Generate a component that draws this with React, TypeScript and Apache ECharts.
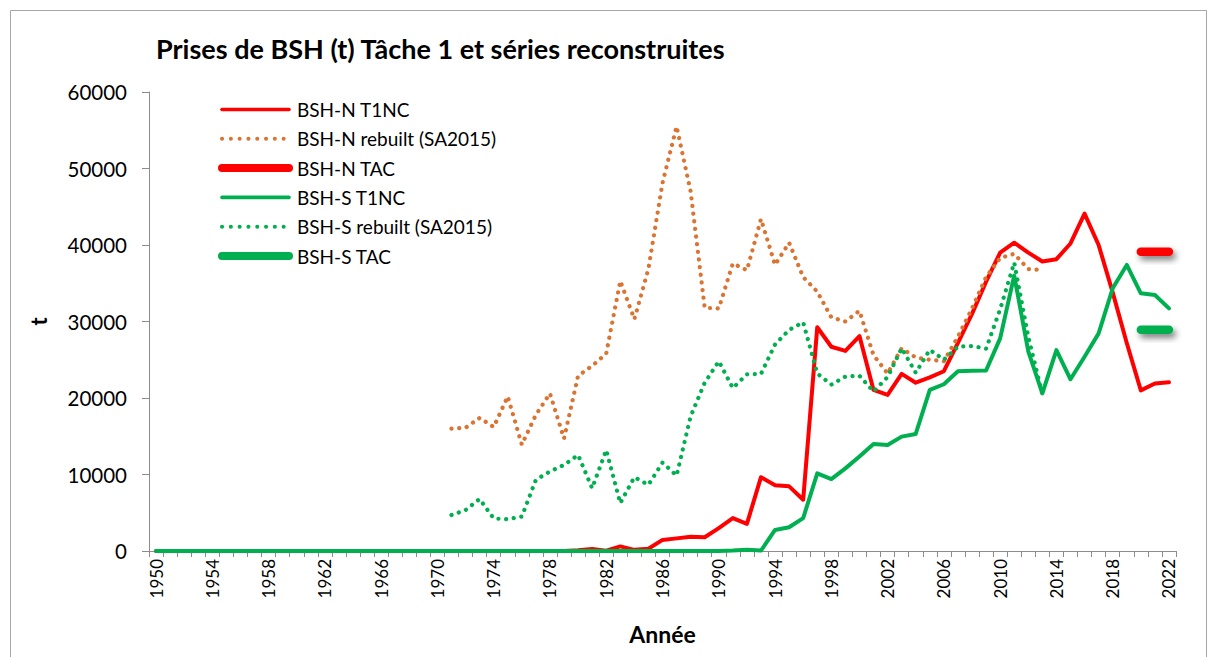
import React, { useEffect, useRef } from "react";
import * as echarts from "echarts";

const firstYear = 1950;
const lastYear = 2022;
const years: string[] = [];
for (let y = firstYear; y <= lastYear; y++) years.push(String(y));

const titleText = "Prises de BSH (t) Tâche 1 et séries reconstruites";
const xName = "Année";
const yName = "t";
const yTicks = { min: 0, max: 60000, interval: 10000 };

// 1950 - 2022 (73 values)
const nT1NC: (number | null)[] = [
  0, 0, 0, 0, 0, 0, 0, 0, 0, 0, // 1950-1959
  0, 0, 0, 0, 0, 0, 0, 0, 0, 0, // 1960-1969
  0, 0, 0, 0, 0, 0, 0, 0, 0, 0, // 1970-1979
  100, 250, 50, 600, 150, 300, 1450, 1650, 1850, 1800, // 1980-1989
  3000, 4300, 3550, 9650, 8600, 8450, 6700, 29250, 26700, 26150, // 1990-1999
  28100, 21050, 20400, 23150, 22000, 22700, 23500, 27200, 31000, 35200, // 2000-2009
  39000, 40300, 39000, 37850, 38150, 40200, 44100, 40000, 33800, 27200, // 2010-2019
  21000, 21900, 22050, // 2020-2022
];

const nRebuilt: (number | null)[] = [
  null, null, null, null, null, null, null, null, null, null, // 1950-1959
  null, null, null, null, null, null, null, null, null, null, // 1960-1969
  null, 16000, 16100, 17400, 16200, 20200, 13900, 17800, 20600, 14700, // 1970-1979
  22900, 24200, 25800, 35300, 30300, 36900, 48100, 55500, 47000, 31800, // 1980-1989
  31700, 37600, 36700, 43400, 37400, 40300, 35800, 33900, 30550, 30000, // 1990-1999
  31400, 25600, 23200, 26500, 25300, 25000, 24800, 28000, 31700, 35800, // 2000-2009
  38300, 38850, 36850, 36750, null, null, null, null, null, null, // 2010-2019
  null, null, null, // 2020-2022
];

const nTAC: (number | null)[] = [
  null, null, null, null, null, null, null, null, null, null,
  null, null, null, null, null, null, null, null, null, null,
  null, null, null, null, null, null, null, null, null, null,
  null, null, null, null, null, null, null, null, null, null,
  null, null, null, null, null, null, null, null, null, null,
  null, null, null, null, null, null, null, null, null, null,
  null, null, null, null, null, null, null, null, null, null,
  39102, 39102, 39102, // 2020-2022
];

const sT1NC: (number | null)[] = [
  0, 0, 0, 0, 0, 0, 0, 0, 0, 0, // 1950-1959
  0, 0, 0, 0, 0, 0, 0, 0, 0, 0, // 1960-1969
  0, 0, 0, 0, 0, 0, 0, 0, 0, 0, // 1970-1979
  0, 0, 0, 0, 0, 0, 0, 0, 0, 0, // 1980-1989
  0, 50, 150, 50, 2750, 3100, 4300, 10150, 9400, 10800, // 1990-1999
  12350, 14000, 13850, 14950, 15300, 21050, 21800, 23500, 23550, 23600, // 2000-2009
  27800, 36000, 26100, 20600, 26270, 22450, 25400, 28450, 34340, 37390, // 2010-2019
  33690, 33460, 31720, // 2020-2022
];

const sRebuilt: (number | null)[] = [
  null, null, null, null, null, null, null, null, null, null, // 1950-1959
  null, null, null, null, null, null, null, null, null, null, // 1960-1969
  null, 4700, 5350, 6800, 4250, 4150, 4500, 9300, 10400, 11250, // 1970-1979
  12550, 8200, 13200, 6250, 9650, 8650, 11550, 9850, 17600, 22000, // 1980-1989
  24800, 21300, 23100, 23150, 27000, 28900, 29900, 23200, 21750, 22800, // 1990-1999
  22900, 20850, 22750, 26500, 23300, 26300, 25000, 26700, 26800, 26450, // 2000-2009
  31600, 37700, 28000, 20500, null, null, null, null, null, null, // 2010-2019
  null, null, null, // 2020-2022
];

const sTAC: (number | null)[] = [
  null, null, null, null, null, null, null, null, null, null,
  null, null, null, null, null, null, null, null, null, null,
  null, null, null, null, null, null, null, null, null, null,
  null, null, null, null, null, null, null, null, null, null,
  null, null, null, null, null, null, null, null, null, null,
  null, null, null, null, null, null, null, null, null, null,
  null, null, null, null, null, null, null, null, null, null,
  28923, 28923, 28923, // 2020-2022
];

const seriesNames = [
  "BSH-N T1NC",
  "BSH-N rebuilt (SA2015)",
  "BSH-N TAC",
  "BSH-S T1NC",
  "BSH-S rebuilt (SA2015)",
  "BSH-S TAC",
];

const RED = "#FF0000";
const ORANGE = "#DA7432";
const GREEN = "#00B050";
const FONT = "Lato";
const DOT_DASH = [0.1, 7.6];

type Kind = "solid" | "dotted" | "thick";
const seriesKinds: Kind[] = ["solid", "dotted", "thick", "solid", "dotted", "thick"];
const seriesColors = [RED, ORANGE, RED, GREEN, GREEN, GREEN];
const seriesData = [nT1NC, nRebuilt, nTAC, sT1NC, sRebuilt, sTAC];

// For the TAC (thick) series: one segment from first to last defined year
function segmentOf(arr: (number | null)[]) {
  let first = -1;
  let last = -1;
  for (let i = 0; i < arr.length; i++) {
    if (arr[i] != null) {
      if (first < 0) first = i;
      last = i;
    }
  }
  if (first < 0) return [];
  return [[first, last, arr[first] as number]];
}

const THICK = 8.5;

function buildSeries(i: number) {
  const name = seriesNames[i];
  const kind = seriesKinds[i];
  const color = seriesColors[i];
  if (kind === "thick") {
    return {
      name,
      type: "custom",
      data: segmentOf(seriesData[i]),
      z: 2 + i,
      renderItem: (params: any, api: any) => {
        const p1 = api.coord([api.value(0), api.value(2)]);
        const p2 = api.coord([api.value(1), api.value(2)]);
        return {
          type: "rect",
          shape: {
            x: p1[0] - THICK / 2,
            y: p1[1] - THICK / 2,
            width: p2[0] - p1[0] + THICK,
            height: THICK,
            r: THICK / 2,
          },
          style: {
            fill: color,
            shadowColor: "rgba(0,0,0,0.5)",
            shadowBlur: 6,
            shadowOffsetX: 3,
            shadowOffsetY: 4,
          },
        };
      },
    };
  }
  const lineStyle =
    kind === "solid"
      ? { color, width: 4, join: "round", cap: "round" }
      : { color, width: 4.2, type: DOT_DASH, cap: "round", join: "round" };
  return {
    name,
    type: "line",
    data: seriesData[i],
    symbol: "none",
    showSymbol: false,
    connectNulls: false,
    color,
    lineStyle,
    z: 2 + i,
  };
}

export default function App() {
  const ref = useRef<HTMLDivElement>(null);

  useEffect(() => {
    if (!ref.current) return;
    const chart = echarts.init(ref.current, undefined, { renderer: "svg" });

    const legendX1 = 222;
    const legendX2 = 289;
    const legendTextX = 297;
    const legendY0 = 109.5;
    const legendStep = 29.3;

    const legendGraphics: any[] = [];
    seriesNames.forEach((name, i) => {
      const y = legendY0 + i * legendStep;
      const kind = seriesKinds[i];
      const color = seriesColors[i];
      const style: any = { stroke: color, lineCap: "round" };
      if (kind === "solid") style.lineWidth = 3.6;
      else if (kind === "dotted") {
        style.lineWidth = 4;
        style.lineDash = [0.1, 8.7];
      } else style.lineWidth = 8;
      legendGraphics.push({
        type: "line",
        shape: { x1: legendX1, y1: y, x2: legendX2, y2: y },
        style,
        silent: true,
      });
      legendGraphics.push({
        type: "text",
        x: legendTextX,
        y,
        style: {
          text: name,
          fill: "#000",
          font: `19px ${FONT}`,
          textVerticalAlign: "middle",
          verticalAlign: "middle",
        },
        silent: true,
      });
    });

    chart.setOption({
      animation: false,
      backgroundColor: "#fff",
      title: {
        text: titleText,
        left: 156,
        top: 35,
        padding: 0,
        textStyle: { fontFamily: FONT, fontWeight: "bold", fontSize: 27, color: "#000" },
      },
      grid: { left: 149, right: 34, top: 92, bottom: 106, containLabel: false },
      xAxis: {
        type: "category",
        data: years,
        boundaryGap: true,
        name: xName,
        nameLocation: "middle",
        nameGap: 71,
        nameTextStyle: { fontFamily: FONT, fontWeight: "bold", fontSize: 23, color: "#000" },
        axisLine: { show: true, lineStyle: { color: "#8C8C8C", width: 1 } },
        axisTick: { show: true, interval: 0, length: 6, lineStyle: { color: "#8C8C8C" } },
        axisLabel: {
          interval: 3,
          rotate: 90,
          margin: 8,
          fontSize: 17,
          fontFamily: FONT,
          color: "#000",
        },
        splitLine: { show: false },
      },
      yAxis: {
        type: "value",
        min: yTicks.min,
        max: yTicks.max,
        interval: yTicks.interval,
        name: yName,
        nameLocation: "middle",
        nameGap: 100,
        nameRotate: 90,
        nameTextStyle: { fontFamily: FONT, fontWeight: "bold", fontSize: 22, color: "#000" },
        axisLine: { show: true, lineStyle: { color: "#8C8C8C", width: 1 } },
        axisTick: { show: true, length: 7, lineStyle: { color: "#8C8C8C" } },
        axisLabel: {
          margin: 22,
          fontSize: 20.5,
          fontFamily: FONT,
          color: "#000",
          formatter: (v: number) => String(v),
        },
        splitLine: { show: false },
      },
      series: seriesNames.map((_, i) => buildSeries(i)),
      graphic: [
        {
          type: "rect",
          shape: { x: 10.5, y: 10.5, width: 1196, height: 720 },
          style: { fill: "none", stroke: "#A6A6A6", lineWidth: 1 },
          silent: true,
          z: -10,
        },
        ...legendGraphics,
      ],
    });

    return () => chart.dispose();
  }, []);

  return (
    <div
      ref={ref}
      style={{ position: "absolute", left: 0, top: 0, width: 1210, height: 657 }}
    />
  );
}
